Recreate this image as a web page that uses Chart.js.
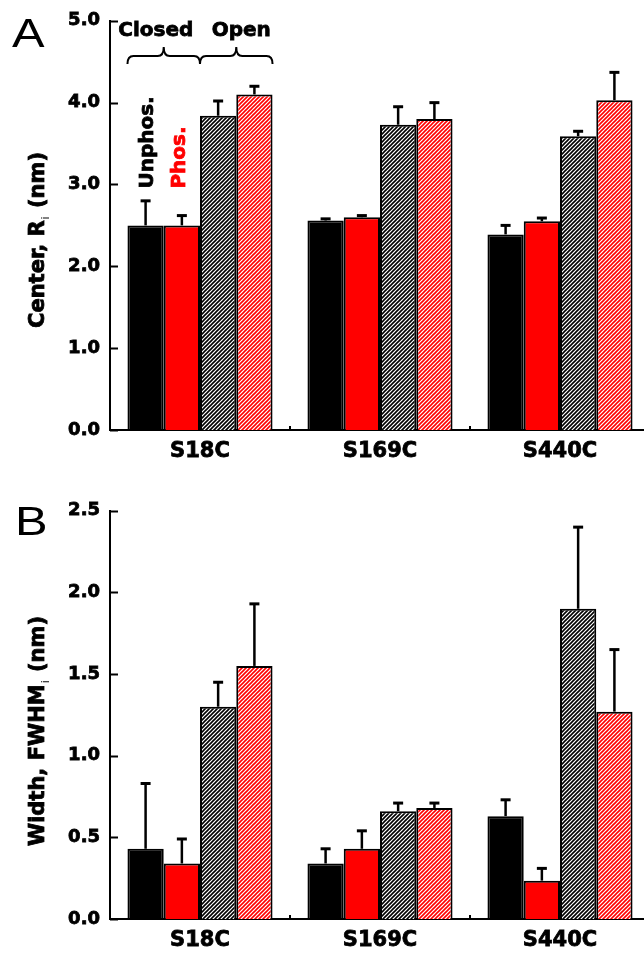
<!DOCTYPE html>
<html>
<head>
<meta charset="utf-8">
<script src="https://cdn.jsdelivr.net/npm/chart.js@4.4.1/dist/chart.umd.min.js"></script>
<style>
html, body { margin: 0; padding: 0; background: #fff; width: 644px; height: 955px; overflow: hidden; }
.panel { position: absolute; left: 0; width: 660px; }
#p1 { top: 0; height: 470px; }
#p2 { top: 490px; height: 465px; }
</style>
</head>
<body>
<div class="panel" id="p1"><canvas id="centerChart"></canvas></div>
<div class="panel" id="p2"><canvas id="widthChart"></canvas></div>
<script>
const groups = ['S18C', 'S169C', 'S440C'];

// panel A: center R_i (nm)
const centerUnphosClosed = [2.50, 2.56, 2.39];
const centerPhosClosed   = [2.50, 2.60, 2.55];
const centerUnphosOpen   = [3.84, 3.73, 3.59];
const centerPhosOpen     = [4.10, 3.80, 4.03];
const centerUnphosClosedErr = [0.30, 0.02, 0.11];
const centerPhosClosedErr   = [0.12, 0.02, 0.04];
const centerUnphosOpenErr   = [0.18, 0.22, 0.06];
const centerPhosOpenErr     = [0.10, 0.20, 0.34];
const centerTicks = [0, 1, 2, 3, 4, 5];

// panel B: width FWHM_i (nm)
const widthUnphosClosed = [0.43, 0.34, 0.63];
const widthPhosClosed   = [0.34, 0.43, 0.235];
const widthUnphosOpen   = [1.30, 0.66, 1.90];
const widthPhosOpen     = [1.55, 0.68, 1.27];
const widthUnphosClosedErr = [0.40, 0.09, 0.10];
const widthPhosClosedErr   = [0.15, 0.11, 0.075];
const widthUnphosOpenErr   = [0.15, 0.05, 0.50];
const widthPhosOpenErr     = [0.38, 0.03, 0.38];
const widthTicks = [0, 0.5, 1.0, 1.5, 2.0, 2.5];

const FONT = '"DejaVu Sans", sans-serif';

function hatch(ctx, color) {
    const c = document.createElement('canvas');
    c.width = 4; c.height = 4;
    const g = c.getContext('2d');
    g.fillStyle = '#fff';
    g.fillRect(0, 0, 4, 4);
    g.strokeStyle = color;
    g.lineWidth = 1.6;
    g.beginPath();
    g.moveTo(0, 4); g.lineTo(4, 0);
    g.moveTo(-1, 1); g.lineTo(1, -1);
    g.moveTo(3, 5); g.lineTo(5, 3);
    g.stroke();
    return ctx.createPattern(c, 'repeat');
}

const errorBars = {
    id: 'errorBars',
    afterDatasetsDraw(chart) {
        const ctx = chart.ctx, y = chart.scales.y;
        ctx.save();
        ctx.strokeStyle = '#000';
        chart.data.datasets.forEach((ds, i) => {
            chart.getDatasetMeta(i).data.forEach((bar, j) => {
                const top = y.getPixelForValue(ds.data[j] + ds.errors[j]);
                ctx.lineWidth = 2.5;
                ctx.beginPath();
                ctx.moveTo(bar.x, bar.y);
                ctx.lineTo(bar.x, top);
                ctx.stroke();
                ctx.lineWidth = 3;
                ctx.beginPath();
                ctx.moveTo(bar.x - 5, top);
                ctx.lineTo(bar.x + 5, top);
                ctx.stroke();
            });
        });
        ctx.restore();
    }
};

function heavyText(ctx, txt, x, y) {
    ctx.strokeText(txt, x, y);
    ctx.fillText(txt, x, y);
}

function rotatedTitle(ctx, parts, cx, cy) {
    const big = 'bold 21px ' + FONT, small = '11px ' + FONT;
    ctx.save();
    ctx.translate(cx, cy);
    ctx.rotate(-Math.PI / 2);
    ctx.fillStyle = '#000';
    ctx.strokeStyle = '#000';
    ctx.lineWidth = 0.8;
    ctx.textBaseline = 'alphabetic';
    ctx.font = big;
    const w0 = ctx.measureText(parts[0]).width, w2 = ctx.measureText(parts[2]).width;
    ctx.font = small;
    const w1 = ctx.measureText(parts[1]).width;
    let x = -(w0 + w1 + w2) / 2;
    ctx.font = big; heavyText(ctx, parts[0], x, 0); x += w0;
    ctx.font = small; ctx.fillText(parts[1], x + 1, 5); x += w1 + 2;
    ctx.font = big; heavyText(ctx, parts[2], x, 0);
    ctx.restore();
}

function brace(ctx, x1, x2, yEnd, yMid, yTip) {
    const xm = (x1 + x2) / 2, r = 6;
    ctx.beginPath();
    ctx.moveTo(x1, yEnd);
    ctx.quadraticCurveTo(x1, yMid, x1 + r, yMid);
    ctx.lineTo(xm - r, yMid);
    ctx.quadraticCurveTo(xm, yMid, xm, yTip);
    ctx.quadraticCurveTo(xm, yMid, xm + r, yMid);
    ctx.lineTo(x2 - r, yMid);
    ctx.quadraticCurveTo(x2, yMid, x2, yEnd);
    ctx.stroke();
}

const decor = {
    id: 'decor',
    afterDraw(chart, args, opts) {
        const ctx = chart.ctx, area = chart.chartArea;
        const x = chart.scales.x, y = chart.scales.y;
        ctx.save();
        ctx.strokeStyle = '#000';
        ctx.lineWidth = 2;
        // inward y ticks
        y.ticks.forEach(t => {
            const py = Math.round(y.getPixelForValue(t.value)) + 0.5;
            ctx.beginPath();
            ctx.moveTo(area.left, py);
            ctx.lineTo(area.left + 8, py);
            ctx.stroke();
        });
        // small ticks between groups
        for (let i = 1; i < groups.length; i++) {
            const px = Math.round((x.getPixelForValue(i - 1) + x.getPixelForValue(i)) / 2);
            ctx.beginPath();
            ctx.moveTo(px, area.bottom);
            ctx.lineTo(px, area.bottom - 4);
            ctx.stroke();
        }
        rotatedTitle(ctx, opts.title, 44, opts.titleY);
        // panel letter
        ctx.save();
        ctx.fillStyle = '#000';
        ctx.font = '40px "Liberation Sans", sans-serif';
        ctx.textBaseline = 'alphabetic';
        ctx.textAlign = 'left';
        ctx.translate(opts.letterX, opts.letterY);
        ctx.scale(1.22, 1);
        ctx.fillText(opts.letter, 0, 0);
        ctx.restore();

        if (opts.annotate) {
            const b = [0, 1, 2, 3].map(i => chart.getDatasetMeta(i).data[0]);
            const l1 = b[0].x - b[0].width / 2, r1 = b[1].x + b[1].width / 2;
            const l2 = b[2].x - b[2].width / 2, r2 = b[3].x + b[3].width / 2;
            ctx.lineWidth = 2;
            brace(ctx, l1, r1, 64, 56, 47);
            brace(ctx, l2, r2, 64, 56, 47);
            ctx.font = 'bold 20px ' + FONT;
            ctx.textAlign = 'center';
            ctx.lineWidth = 0.8;
            ctx.fillStyle = '#000';
            heavyText(ctx, 'Closed', (l1 + r1) / 2 - 8, 36);
            heavyText(ctx, 'Open', (l2 + r2) / 2 + 5, 36);
            const yStart = y.getPixelForValue(2.95);
            [[b[0].x + 2, 'Unphos.', '#000'], [b[1].x - 2, 'Phos.', '#ff0000']].forEach(([px, txt, col]) => {
                ctx.save();
                ctx.translate(px, yStart);
                ctx.rotate(-Math.PI / 2);
                ctx.textAlign = 'left';
                ctx.textBaseline = 'middle';
                ctx.fillStyle = col;
                ctx.strokeStyle = col;
                heavyText(ctx, txt, 0, 0);
                ctx.restore();
            });
        }
        ctx.restore();
    }
};

function makeChart(id, series, errors, ticks, decorOpts, padTop, xHeight) {
    const canvas = document.getElementById(id);
    const ctx = canvas.getContext('2d');
    const fills = ['#000000', '#ff0000', hatch(ctx, '#000000'), hatch(ctx, '#ff0000')];
    const names = ['Unphos. closed', 'Phos. closed', 'Unphos. open', 'Phos. open'];
    return new Chart(ctx, {
        type: 'bar',
        data: {
            labels: groups,
            datasets: series.map((s, i) => ({
                label: names[i],
                data: s,
                errors: errors[i],
                backgroundColor: fills[i],
                borderColor: '#000',
                borderWidth: 2,
                categoryPercentage: 0.806,
                barPercentage: 1.0
            }))
        },
        options: {
            responsive: true,
            maintainAspectRatio: false,
            animation: false,
            layout: { padding: { top: padTop, right: 10, left: 0, bottom: 0 } },
            plugins: {
                legend: { display: false },
                tooltip: { enabled: false },
                decor: decorOpts
            },
            scales: {
                x: {
                    grid: { display: false, drawTicks: false },
                    border: { display: true, color: '#000', width: 2 },
                    ticks: {
                        color: '#000',
                        font: { family: FONT, size: 21, weight: 'bold' },
                        textStrokeColor: '#000',
                        textStrokeWidth: 0.8,
                        padding: 9
                    },
                    afterFit: s => { s.height = xHeight; }
                },
                y: {
                    min: ticks[0],
                    max: ticks[ticks.length - 1],
                    grid: { display: false, drawTicks: false },
                    border: { display: true, color: '#000', width: 2 },
                    ticks: {
                        stepSize: ticks[1] - ticks[0],
                        color: '#000',
                        font: { family: FONT, size: 18, weight: 'bold' },
                        textStrokeColor: '#000',
                        textStrokeWidth: 0.8,
                        padding: 10,
                        callback: v => v.toFixed(1)
                    },
                    afterFit: s => { s.width = 110; }
                }
            }
        },
        plugins: [errorBars, decor]
    });
}

makeChart('centerChart',
    [centerUnphosClosed, centerPhosClosed, centerUnphosOpen, centerPhosOpen],
    [centerUnphosClosedErr, centerPhosClosedErr, centerUnphosOpenErr, centerPhosOpenErr],
    centerTicks,
    { title: ['Center, R', 'i', ' (nm)'], titleY: 241, letter: 'A', letterX: 12, letterY: 47, annotate: true },
    15, 40);

makeChart('widthChart',
    [widthUnphosClosed, widthPhosClosed, widthUnphosOpen, widthPhosOpen],
    [widthUnphosClosedErr, widthPhosClosedErr, widthUnphosOpenErr, widthPhosOpenErr],
    widthTicks,
    { title: ['Width, FWHM', 'i', ' (nm)'], titleY: 242, letter: 'B', letterX: 15, letterY: 45, annotate: false },
    15, 36);
</script>
</body>
</html>
